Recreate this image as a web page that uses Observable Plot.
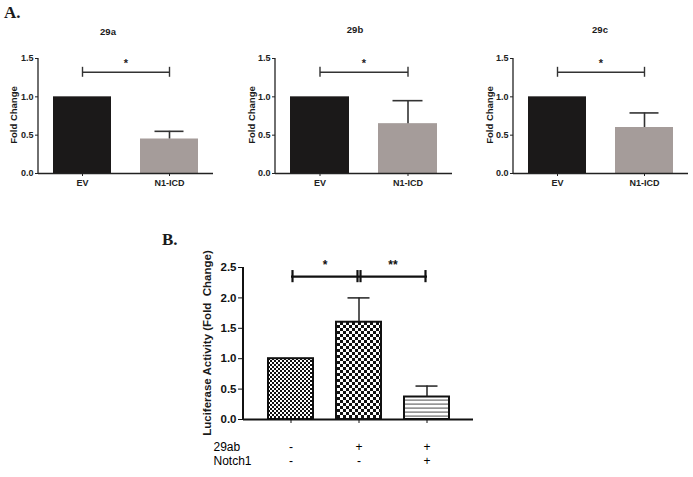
<!DOCTYPE html>
<html><head><meta charset="utf-8">
<script src="https://cdn.jsdelivr.net/npm/d3@7"></script>
<script src="https://cdn.jsdelivr.net/npm/@observablehq/plot@0.6"></script>
<style>
body{margin:0;background:#fff;}
#root{position:relative;width:693px;height:477px;overflow:hidden;font-family:"Liberation Sans",Arial,sans-serif;color:#1a1a1a;background:#fff;}
.abs{position:absolute;white-space:pre;line-height:1;}
.letter{font-family:"Liberation Serif","Times New Roman",serif;font-weight:bold;font-size:17px;}
.ttl{font-weight:bold;font-size:9.5px;transform:translate(-50%,-50%);}
.ylab{font-weight:bold;transform:translate(-50%,-50%) rotate(-90deg);}
</style></head>
<body><div id="root">
<svg width="0" height="0" style="position:absolute">
 <defs>
  <pattern id="checkFine" patternUnits="userSpaceOnUse" width="4" height="4">
   <rect width="4" height="4" fill="#fff"/><rect width="2" height="2" fill="#111"/><rect x="2" y="2" width="2" height="2" fill="#111"/>
  </pattern>
  <pattern id="checkCoarse" patternUnits="userSpaceOnUse" width="6" height="6">
   <rect width="6" height="6" fill="#fff"/><rect width="3" height="3" fill="#111"/><rect x="3" y="3" width="3" height="3" fill="#111"/>
  </pattern>
  <pattern id="hstripes" patternUnits="userSpaceOnUse" width="6" height="4">
   <rect width="6" height="4" fill="#fff"/><rect y="1.5" width="6" height="1.2" fill="#6a6a6a"/>
  </pattern>
 </defs>
</svg>
<div class="abs letter" style="left:4px;top:4px;">A.</div>
<div class="abs letter" style="left:162px;top:231px;">B.</div>
</div>
<script>
// ---------- Panel A data ----------
const groupsA = ["EV", "N1-ICD"];
const titlesA = ["29a", "29b", "29c"];
const meanA = [[1.0, 0.45], [1.0, 0.65], [1.0, 0.60]];
const upperA = [[1.0, 0.55], [1.0, 0.95], [1.0, 0.79]];
const sigLabelA = ["*", "*", "*"];
const sigLevelA = 1.32;
const yTicksA = [0, 0.5, 1.0, 1.5];
const yLabelA = "Fold Change";

// ---------- Panel B data ----------
const condB = ["control", "29ab", "29ab + Notch1"];
const rowLabelsB = ["29ab", "Notch1"];
const row29ab = ["-", "+", "+"];
const rowNotch1 = ["-", "-", "+"];
const meanB = [1.0, 1.6, 0.37];
const upperB = [1.0, 2.0, 0.55];
const sigFromB = ["control", "29ab"];
const sigToB = ["29ab", "29ab + Notch1"];
const sigLabelB = ["*", "**"];
const sigLevelB = 2.35;
const yTicksB = [0, 0.5, 1.0, 1.5, 2.0, 2.5];
const yLabelB = "Luciferase Activity (Fold  Change)";

const root = document.getElementById("root");
const FONT = "'Liberation Sans', Arial, sans-serif";

function place(el, left, top) {
  el.style.position = "absolute";
  el.style.left = left + "px";
  el.style.top = top + "px";
  root.appendChild(el);
}
function addText(cls, txt, x, y, size) {
  const d = document.createElement("div");
  d.className = "abs " + cls;
  d.textContent = txt;
  d.style.left = x + "px"; d.style.top = y + "px";
  if (size) d.style.fontSize = size + "px";
  root.appendChild(d);
}
function yAxisLine(chart, x, y0, y1, w, color) {
  const y = chart.scale("y");
  d3.select(chart).append("line")
    .attr("x1", x).attr("x2", x)
    .attr("y1", y.apply(y0)).attr("y2", y.apply(y1))
    .attr("stroke", color).attr("stroke-width", w);
}

// ---------- Panel A ----------
const layoutA = [
  {left: 0, width: 230, mL: 38, mR: 17, tx: 108, ty: 32, lx: 14},
  {left: 230, width: 230, mL: 45, mR: 8, tx: 355, ty: 30, lx: 252},
  {left: 460, width: 233, mL: 53, mR: 5, tx: 600, ty: 30, lx: 490}
];
layoutA.forEach((L, i) => {
  const data = groupsA.map((g, j) => ({group: g, mean: meanA[i][j], upper: upperA[i][j]}));
  const errs = data.filter(d => d.upper > d.mean);
  const chart = Plot.plot({
    width: L.width, height: 160,
    marginTop: 18, marginBottom: 27, marginLeft: L.mL, marginRight: L.mR,
    style: {fontFamily: FONT, fontSize: "9px", fontWeight: "bold", color: "#222", background: "transparent", overflow: "visible"},
    x: {domain: groupsA, paddingInner: 0.333, paddingOuter: 0.172, tickSize: 3, tickPadding: 3, label: null},
    y: {domain: [0, 1.5], ticks: yTicksA, tickFormat: d3.format(".1f"), tickSize: 3, tickPadding: 2, label: null},
    color: {domain: groupsA, range: ["#1b1919", "#a59c9a"]},
    marks: [
      Plot.barY(data, {x: "group", y: "mean", fill: "group"}),
      Plot.ruleX(errs, {x: "group", y1: "mean", y2: "upper", stroke: "#333", strokeWidth: 1.6}),
      Plot.tickY(errs, {x: "group", y: "upper", stroke: "#333", strokeWidth: 1.6, insetLeft: 14.5, insetRight: 14.5}),
      Plot.ruleY([0], {stroke: "#222", strokeWidth: 1.3}),
      Plot.link([sigLabelA[i]], {x1: () => groupsA[0], x2: () => groupsA[1], y1: () => sigLevelA, y2: () => sigLevelA, stroke: "#333", strokeWidth: 1.4}),
      Plot.ruleX(groupsA, {x: d => d, y1: () => sigLevelA - 0.065, y2: () => sigLevelA + 0.065, stroke: "#333", strokeWidth: 1.4}),
      Plot.text([sigLabelA[i]], {frameAnchor: "middle", y: () => sigLevelA, dy: -9, text: d => d, fontSize: 11, fontWeight: "bold", fill: "#222"})
    ]
  });
  yAxisLine(chart, L.mL, 0, 1.5, 1.3, "#222");
  place(chart, L.left, 40);
  addText("ttl", titlesA[i], L.tx, L.ty);
  addText("ylab", yLabelA, L.lx, 115, 9.5);
});

// ---------- Panel B ----------
{
  const data = condB.map((c, j) => ({cond: c, mean: meanB[j], upper: upperB[j]}));
  const errs = data.filter(d => d.upper > d.mean);
  const sig = sigFromB.map((f, j) => ({from: f, to: sigToB[j], label: sigLabelB[j]}));
  const chart = Plot.plot({
    width: 320, height: 227,
    marginTop: 17, marginBottom: 58, marginLeft: 83, marginRight: 7,
    style: {fontFamily: FONT, fontSize: "11.5px", fontWeight: "bold", color: "#111", background: "transparent", overflow: "visible"},
    x: {domain: condB, paddingInner: 0.343, paddingOuter: 0.35, tickSize: 4, tickFormat: () => "", label: null},
    y: {domain: [0, 2.5], ticks: yTicksB, tickFormat: d3.format(".1f"), tickSize: 5, tickPadding: 2, label: null},
    color: {domain: condB, range: ["url(#checkFine)", "url(#checkCoarse)", "url(#hstripes)"]},
    marks: [
      Plot.barY(data, {x: "cond", y: "mean", fill: "cond", stroke: "#111", strokeWidth: 2}),
      Plot.ruleX(errs, {x: "cond", y1: "mean", y2: "upper", stroke: "#222", strokeWidth: 1.5}),
      Plot.tickY(errs, {x: "cond", y: "upper", stroke: "#222", strokeWidth: 1.5, insetLeft: 11.5, insetRight: 11.5}),
      Plot.ruleY([0], {stroke: "#111", strokeWidth: 2}),
      Plot.link(sig, {x1: "from", x2: "to", y1: () => sigLevelB, y2: () => sigLevelB, stroke: "#111", strokeWidth: 2.2}),
      Plot.ruleX(sig, {x: "from", dx: 1.5, y1: () => sigLevelB - 0.1, y2: () => sigLevelB + 0.1, stroke: "#111", strokeWidth: 2.2}),
      Plot.ruleX(sig, {x: "to", dx: -1.5, y1: () => sigLevelB - 0.1, y2: () => sigLevelB + 0.1, stroke: "#111", strokeWidth: 2.2}),
      Plot.text(sig, {x: "from", y: () => sigLevelB, dx: 34, dy: -11, text: "label", fontSize: 12, fontWeight: "bold", fill: "#111"}),
      Plot.text(condB, {x: d => d, text: (d, j) => row29ab[j], frameAnchor: "bottom", dy: 31, fontSize: 12, fontWeight: "normal", fill: "#000"}),
      Plot.text(condB, {x: d => d, text: (d, j) => rowNotch1[j], frameAnchor: "bottom", dy: 45, fontSize: 12, fontWeight: "normal", fill: "#000"}),
      Plot.text([rowLabelsB[0]], {frameAnchor: "bottom-left", dx: -30, dy: 31, textAnchor: "start", text: d => d, fontSize: 12, fontWeight: "normal", fill: "#000"}),
      Plot.text([rowLabelsB[1]], {frameAnchor: "bottom-left", dx: -30, dy: 45, textAnchor: "start", text: d => d, fontSize: 12, fontWeight: "normal", fill: "#000"})
    ]
  });
  yAxisLine(chart, 83, 0, 2.5, 2, "#111");
  place(chart, 160, 250);
  addText("ylab", yLabelB, 208, 343, 11.5);
}
</script>
</body></html>
